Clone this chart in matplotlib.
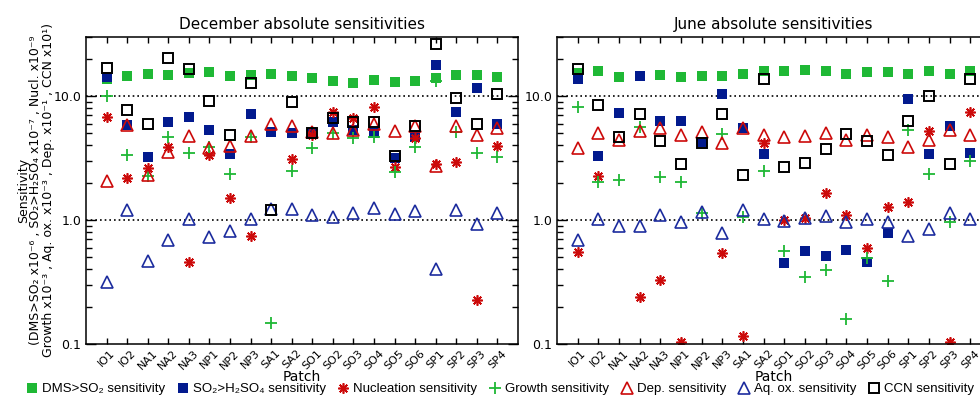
"""December / June absolute sensitivities per patch (log scale), two panels side by side."""

import matplotlib

matplotlib.use("Agg")
import matplotlib.pyplot as plt
import numpy as np
from matplotlib.lines import Line2D
from matplotlib.ticker import FixedLocator, LogLocator, NullFormatter

nan = np.nan

patches = ["IO1", "IO2", "NA1", "NA2", "NA3", "NP1", "NP2", "NP3", "SA1", "SA2",
           "SO1", "SO2", "SO3", "SO4", "SO5", "SO6", "SP1", "SP2", "SP3", "SP4"]

# December
dms_dec = [13.7, 14.5, 15.0, 14.8, 15.3, 15.6, 14.5, 14.8, 15.0, 14.5, 14.0, 13.2, 12.7, 13.4, 13.0, 13.2, 14.0, 14.8, 14.8, 14.2]
so2_dec = [14.2, 5.84, 3.22, 6.17, 6.77, 5.32, 3.41, 7.16, 5.13, 5.02, 5.0, 6.17, 5.3, 5.0, 3.16, 4.67, 17.8, 7.4, 11.6, 5.94]
nuc_dec = [6.77, 2.18, 2.63, 3.88, 0.46, 3.34, 1.5, 0.74, nan, 3.1, 4.9, 7.43, 6.6, 8.15, 2.67, 4.6, 2.83, 2.94, 0.226, 3.96]
gro_dec = [10.0, 3.34, 2.26, 4.67, 3.47, 3.88, 2.35, 4.67, 0.148, 2.48, 3.8, 5.0, 4.58, 4.67, 2.44, 3.88, 13.3, 5.1, 3.47, 3.22]
dep_dec = [2.06, 5.8, 2.31, 3.54, 4.76, 3.8, 3.96, 4.8, 5.94, 5.73, 5.1, 5.0, 5.3, 6.0, 5.2, 5.7, 2.75, 5.7, 4.85, 5.5]
aq_dec = [0.316, 1.2, 0.467, 0.69, 1.02, 0.73, 0.815, 1.02, 1.22, 1.23, 1.1, 1.06, 1.14, 1.25, 1.12, 1.18, 0.40, 1.2, 0.93, 1.14]
ccn_dec = [16.8, 7.71, 5.94, 20.3, 16.5, 9.1, 4.84, 12.7, 1.2, 8.96, 5.0, 6.65, 6.17, 6.17, 3.28, 5.73, 26.3, 9.6, 5.94, 10.4]

# June
dms_jun = [15.5, 15.9, 14.2, 14.5, 14.8, 14.3, 14.5, 14.5, 15.0, 15.9, 15.9, 16.2, 15.9, 15.0, 15.6, 15.6, 15.0, 15.9, 15.0, 15.9]
so2_jun = [13.7, 3.28, 7.3, 14.5, 6.3, 6.3, 4.3, 10.4, 5.5, 3.4, 0.45, 0.56, 0.51, 0.57, 0.46, 0.785, 9.45, 3.4, 5.73, 3.47]
nuc_jun = [0.55, 2.26, nan, 0.24, 0.33, 0.104, nan, 0.54, 0.116, 4.17, 1.0, 1.04, 1.65, 1.1, 0.59, 1.27, 1.4, 5.2, 0.104, 7.4]
gro_jun = [8.15, 2.03, 2.1, 5.6, 2.22, 2.03, 1.13, 4.94, 1.06, 2.48, 0.56, 0.35, 0.395, 0.16, 0.49, 0.32, 5.3, 2.35, 0.96, 3.0]
dep_jun = [3.8, 5.0, 4.42, 5.2, 5.5, 4.85, 5.1, 4.17, 5.5, 4.85, 4.67, 4.76, 5.0, 4.42, 4.85, 4.67, 3.88, 4.42, 5.3, 4.85]
aq_jun = [0.69, 1.02, 0.89, 0.89, 1.1, 0.96, 1.16, 0.785, 1.2, 1.02, 0.98, 1.04, 1.08, 0.96, 1.02, 0.96, 0.74, 0.85, 1.14, 1.02]
ccn_jun = [16.5, 8.46, 4.67, 7.16, 4.34, 2.83, 4.17, 7.16, 2.31, 13.7, 2.67, 2.88, 3.73, 4.94, 4.34, 3.34, 6.3, 10.0, 2.83, 13.7]

GREEN = "#1fb835"
NAVY = "#021a8e"
RED = "#cc0a0a"
BLUE = "#1c2c9e"

# label, marker style kwargs
STYLES = [
    ("DMS>SO\u2082 sensitivity", dict(marker="s", ms=6.5, mfc=GREEN, mec=GREEN, mew=0)),
    ("SO\u2082>H\u2082SO\u2084 sensitivity", dict(marker="s", ms=6.5, mfc=NAVY, mec=NAVY, mew=0)),
    ("Nucleation sensitivity", dict(marker=(8, 2, 0), ms=7.5, mec=RED, mew=1.2)),
    ("Growth sensitivity", dict(marker="+", ms=8, mec=GREEN, mew=1.3)),
    ("Dep. sensitivity", dict(marker="^", ms=8, mfc="none", mec=RED, mew=1.2)),
    ("Aq. ox. sensitivity", dict(marker="^", ms=8, mfc="none", mec=BLUE, mew=1.2)),
    ("CCN sensitivity", dict(marker="s", ms=7.5, mfc="none", mec="black", mew=1.4)),
]

YLABEL = ("Sensitivity\n"
          "(DMS>SO\u2082 x10\u207b\u2076 , SO\u2082>H\u2082SO\u2084 x10\u207b\u2077 , Nucl. x10\u207b\u2079\n"
          "Growth x10\u207b\u00b3 , Aq. ox. x10\u207b\u00b3 , Dep. x10\u207b\u00b9 , CCN x10\u00b9)")


def draw_panel(ax, series, title):
    x = np.arange(len(patches))
    for (label, st), vals in zip(STYLES, series):
        ax.plot(x, vals, ls="none", **st)
    for lev in (1.0, 10.0):
        ax.axhline(lev, color="black", ls=(0, (1, 1.8)), lw=1.2, zorder=0)
    ax.set_yscale("log")
    ax.set_ylim(0.1, 30)
    ax.set_xlim(-1, len(patches))
    ax.yaxis.set_major_locator(FixedLocator([0.1, 1.0, 10.0]))
    ax.set_yticklabels(["0.1", "1.0", "10.0"])
    ax.yaxis.set_minor_locator(LogLocator(base=10, subs=np.arange(2, 10)))
    ax.yaxis.set_minor_formatter(NullFormatter())
    ax.set_xticks(x)
    ax.set_xticklabels(patches, rotation=45, ha="center", fontsize=8)
    ax.tick_params(axis="both", which="both", direction="in", top=True, right=True, width=1.0)
    ax.tick_params(axis="y", which="major", length=7, labelsize=9)
    ax.tick_params(axis="y", which="minor", length=4.5)
    ax.tick_params(axis="x", which="major", length=4, pad=3)
    for sp in ax.spines.values():
        sp.set_linewidth(1.1)
    ax.set_title(title, fontsize=11, pad=6)
    ax.set_xlabel("Patch", fontsize=10, labelpad=-1)


fig = plt.figure(figsize=(9.8, 4.01), dpi=100)
ax_dec = fig.add_axes([86 / 980, 57 / 401, 432 / 980, 307 / 401])
ax_jun = fig.add_axes([557 / 980, 57 / 401, 434 / 980, 307 / 401])

draw_panel(ax_dec, [dms_dec, so2_dec, nuc_dec, gro_dec, dep_dec, aq_dec, ccn_dec], "December absolute sensitivities")
draw_panel(ax_jun, [dms_jun, so2_jun, nuc_jun, gro_jun, dep_jun, aq_jun, ccn_jun], "June absolute sensitivities")

fig.text(36 / 980, 0.525, YLABEL, rotation=90, ha="center", va="center",
         multialignment="center", fontsize=9, linespacing=0.95)

handles = [Line2D([], [], ls="none", **st) for _, st in STYLES]
labels = [lab for lab, _ in STYLES]
fig.legend(handles, labels, loc="lower center", bbox_to_anchor=(0.51, -0.015), ncol=7,
           frameon=False, handlelength=0.9, handletextpad=0.3, columnspacing=0.9,
           prop=dict(family=["Liberation Sans", "DejaVu Sans"], size=9.5))

fig.savefig("out.png", dpi=100)
